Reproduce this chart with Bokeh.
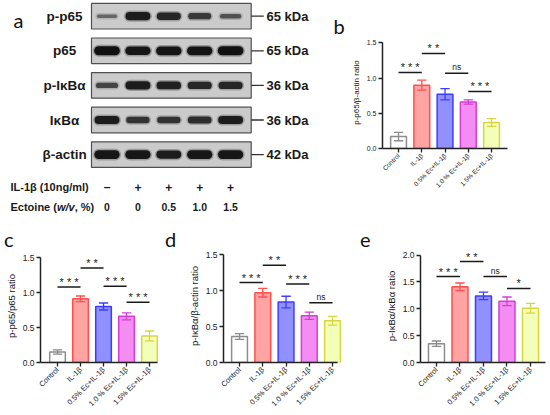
import numpy as np
from bokeh.plotting import figure
from bokeh.layouts import row, column
from bokeh.models import Range1d, FixedTicker, NumeralTickFormatter, ColumnDataSource, Div
from bokeh.core.properties import value, field
from bokeh.embed import file_html
from bokeh.resources import INLINE

# ---------------- data ----------------
groups = ["Control", "IL-1β", "0.5% Ec+IL-1β", "1.0 % Ec+IL-1β", "1.5% Ec+IL-1β"]
positions = [1, 2, 3, 4, 5]
fill_colors = ["#ffffff", "#ffa3a3", "#9090ff", "#f48cf4", "#f3ffb8"]
line_colors = ["#8c8c8c", "#ff4f4f", "#3c3cff", "#d23fd2", "#d6d645"]

sig_from = [1, 2, 3, 4]
sig_to = [2, 3, 4, 5]

b_mean = [0.17, 0.90, 0.77, 0.66, 0.37]
b_err = [0.06, 0.07, 0.08, 0.03, 0.055]
b_sig_text = ["* * *", "* *", "ns", "* * *"]
b_sig_y = [1.08, 1.35, 1.07, 0.81]

c_mean = [0.15, 0.91, 0.80, 0.66, 0.38]
c_err = [0.03, 0.04, 0.05, 0.05, 0.07]
c_sig_text = ["* * *", "* *", "* * *", "* * *"]
c_sig_y = [1.08, 1.35, 1.09, 0.86]

d_mean = [0.36, 0.97, 0.84, 0.65, 0.58]
d_err = [0.04, 0.06, 0.08, 0.05, 0.06]
d_sig_text = ["* * *", "* *", "* * *", "ns"]
d_sig_y = [1.11, 1.35, 1.09, 0.83]

e_mean = [0.35, 1.41, 1.24, 1.14, 1.01]
e_err = [0.05, 0.07, 0.07, 0.08, 0.09]
e_sig_text = ["* * *", "* *", "ns", "*"]
e_sig_y = [1.60, 1.88, 1.60, 1.38]

ticks_15 = [0.0, 0.5, 1.0, 1.5]
ticks_20 = [0.0, 0.5, 1.0, 1.5, 2.0]

blot_rows = ["p-p65", "p65", "p-IκBα", "IκBα", "β-actin"]
blot_kda = ["65 kDa", "65 kDa", "36 kDa", "36 kDa", "42 kDa"]
band_pp65 = [0.3, 0.9, 0.8, 0.65, 0.45]
band_p65 = [1.0, 0.95, 0.97, 0.97, 1.0]
band_pikba = [0.55, 0.9, 0.85, 0.8, 0.8]
band_ikba = [0.9, 0.7, 0.7, 0.75, 0.9]
band_actin = [0.95, 0.95, 0.9, 0.95, 0.95]
il1b_signs = ["–", "+", "+", "+", "+"]
ectoine_pct = ["0", "0", "0.5", "1.0", "1.5"]

panel_letters_bottom = ["c", "d", "e"]

FONT = "Liberation Sans"
LETTER_FONT = "Lato"
TXT = "#1a1a1a"

# ---------------- panel a (blot) + letter b ----------------
A_W, A_H = 345, 232
LANE_PX, ROW_PX = 30.9, 34.6
ax0, ay0 = -106.5 / LANE_PX, -15.7 / ROW_PX
pa = figure(width=A_W, height=A_H, output_backend="svg", toolbar_location=None,
            x_range=Range1d(ax0, ax0 + A_W / LANE_PX),
            y_range=Range1d(ay0 + A_H / ROW_PX, ay0), min_border=0)
pa.axis.visible = False
pa.grid.visible = False
pa.outline_line_color = None

row_idx = list(range(len(blot_rows)))
pa.quad(left=-0.502, right=4.667, top=[r - 0.37 for r in row_idx], bottom=[r + 0.37 for r in row_idx],
        fill_color="#cbcbcb", line_color="#505050", line_width=1.2)

all_bands = [band_pp65, band_p65, band_pikba, band_ikba, band_actin]
bx0, bx1, by, bth, bal = [], [], [], [], []
for r, inten in enumerate(all_bands):
    for lane, v in enumerate(inten):
        bx0.append(lane - 0.27)
        bx1.append(lane + 0.27)
        by.append(r)
        bth.append(1.0 + 8.0 * v)
        bal.append(0.25 + 0.75 * v)
bsrc = ColumnDataSource(dict(x0=bx0, x1=bx1, y=by, th=bth, th2=[t + 3 for t in bth],
                             al=bal, al2=[a * 0.3 for a in bal]))
pa.segment(x0="x0", x1="x1", y0="y", y1="y", source=bsrc, line_color="#222222",
           line_width="th2", line_alpha="al2", line_cap="round")
pa.segment(x0="x0", x1="x1", y0="y", y1="y", source=bsrc, line_color="#111111",
           line_width="th", line_alpha="al", line_cap="round")

pa.segment(x0=4.667, x1=5.074, y0=row_idx, y1=row_idx, line_color="#333333", line_width=1.3)
pa.text(x=5.16, y=row_idx, text=blot_kda, text_font=value(FONT), text_font_style="bold",
        text_font_size="13px", text_baseline="middle", text_align="left", text_color=TXT)
pa.text(x=-1.375, y=row_idx, text=blot_rows, text_font=value(FONT), text_font_style="bold",
        text_font_size="13.5px", text_baseline="middle", text_align="center", text_color=TXT)

pa.text(x=[-3.123], y=[4.94], text=["IL-1β (10ng/ml)"],
        text_font=value(FONT), text_font_style="bold", text_font_size="11px",
        text_baseline="middle", text_align="left", text_color=TXT)
pa.text(x=[-3.123, -1.045], y=[5.52, 5.52], text=["Ectoine (", ", %)"],
        text_font=value(FONT), text_font_style="bold", text_font_size="11px",
        text_baseline="middle", text_align="left", text_color=TXT)
pa.text(x=[-1.618], y=[5.52], text=["w/v"],
        text_font=value(FONT), text_font_style="bold italic", text_font_size="11px",
        text_baseline="middle", text_align="left", text_color=TXT)
lanes = list(range(5))
pa.text(x=lanes, y=[4.94] * 5, text=il1b_signs, text_font=value(FONT), text_font_style="bold",
        text_font_size="12px", text_baseline="middle", text_align="center", text_color=TXT)
pa.text(x=lanes, y=[5.52] * 5, text=ectoine_pct, text_font=value(FONT), text_font_style="bold",
        text_font_size="10.5px", text_baseline="middle", text_align="center", text_color=TXT)
pa.text(x=[-3.026, 7.33], y=[0.124, 0.269], text=["a", "b"], text_font=value(LETTER_FONT),
        text_font_size="20px", text_baseline="alphabetic", text_align="left", text_color="#111111")

# ---------------- strip with letters c, d, e (HTML text) ----------------
STRIP_H = 17
strip_widths = [160, 195, 195]
strip_indent = [4, 5, 5]
divs = []
for letter, w, ind in zip(panel_letters_bottom, strip_widths, strip_indent):
    divs.append(Div(text=letter, width=w, height=STRIP_H, margin=0,
                    styles={"font-family": LETTER_FONT, "font-size": "20px", "line-height": "15px",
                            "color": "#111111", "text-indent": f"{ind}px", "overflow": "visible",
                            "white-space": "nowrap"}))


# ---------------- bar panels ----------------
def bar_panel(fig_w, fig_h, left, right, top, bottom, x_start, px_cat,
              px_unit, y_ticks, axis_x_end, ylabel, means, errs, sig_text, sig_y,
              tick_fs, xtick_fs, label_fs):
    frame_w = fig_w - left - right
    frame_h = fig_h - top - bottom
    x_end = x_start + frame_w / px_cat
    y_top = frame_h / px_unit
    p = figure(width=fig_w, height=fig_h, output_backend="svg", toolbar_location=None,
               x_range=Range1d(x_start, x_end), y_range=Range1d(0, y_top),
               min_border_left=left, min_border_right=right,
               min_border_top=top, min_border_bottom=bottom)
    p.grid.visible = False
    p.outline_line_color = None

    p.vbar(x=positions, top=means, bottom=0, width=0.68, fill_color=fill_colors,
           line_color=line_colors, line_width=1.5)
    lo = [m - e for m, e in zip(means, errs)]
    hi = [m + e for m, e in zip(means, errs)]
    p.segment(x0=positions, x1=positions, y0=lo, y1=hi, line_color=line_colors, line_width=1.3)
    for ends in (lo, hi):
        p.segment(x0=[x - 0.2 for x in positions], x1=[x + 0.2 for x in positions],
                  y0=ends, y1=ends, line_color=line_colors, line_width=1.3)

    p.segment(x0=sig_from, x1=sig_to, y0=sig_y, y1=sig_y, line_color=TXT, line_width=1.5)
    src = ColumnDataSource(dict(x=[(a + b) / 2 for a, b in zip(sig_from, sig_to)], y=sig_y,
                                t=sig_text,
                                fs=["8.5px" if s == "ns" else "11px" for s in sig_text],
                                yo=[-1 if s == "ns" else 1 for s in sig_text]))
    p.text(x="x", y="y", text="t", source=src, text_font=value(FONT), text_font_size=field("fs"),
           y_offset="yo", text_align="center", text_baseline="bottom", text_color="#222222")

    p.xaxis.ticker = FixedTicker(ticks=positions)
    p.xaxis.major_label_overrides = dict(zip(positions, groups))
    p.xaxis.major_label_orientation = np.pi / 4
    p.xaxis.bounds = (x_start, axis_x_end)
    p.xaxis.major_label_text_font_size = xtick_fs
    p.yaxis.ticker = FixedTicker(ticks=y_ticks)
    p.yaxis.formatter = NumeralTickFormatter(format="0.0")
    p.yaxis.bounds = (0, y_ticks[-1])
    p.yaxis.major_label_text_font_size = tick_fs
    p.yaxis.axis_label = ylabel
    p.yaxis.axis_label_text_font = FONT
    p.yaxis.axis_label_text_font_style = "normal"
    p.yaxis.axis_label_text_font_size = label_fs
    p.yaxis.axis_label_text_color = "#111111"
    p.yaxis.axis_label_standoff = 3
    for ax in (p.xaxis[0], p.yaxis[0]):
        ax.axis_line_width = 1.5
        ax.axis_line_color = "#222222"
        ax.major_tick_line_width = 1.3
        ax.major_tick_line_color = "#222222"
        ax.major_tick_in = 0
        ax.major_tick_out = 4
        ax.minor_tick_line_color = None
        ax.major_label_text_font = FONT
        ax.major_label_text_color = "#222222"
        ax.major_label_standoff = 2
    return p


BOT_H = 415 - A_H - STRIP_H
pb = bar_panel(205, 232, 37, 38, 36, 84, 0.31, 23.25, 70.4, ticks_15, 5.69,
               "p-p65/β-actin ratio", b_mean, b_err, b_sig_text, b_sig_y, "7px", "6.5px", "8px")
pc = bar_panel(160, BOT_H, 40, 2, 0, 53, 0.26, 23.0, 70.0, ticks_15, 5.35,
               "p-p65/p65 ratio", c_mean, c_err, c_sig_text, c_sig_y, "8.5px", "7.5px", "9.5px")
pd_ = bar_panel(195, BOT_H, 63, 13, 0, 53, 0.31, 23.25, 72.0, ticks_15, 5.21,
                "p-IκBα/β-actin ratio", d_mean, d_err, d_sig_text, d_sig_y, "8.5px", "7.5px", "9.5px")
pe = bar_panel(195, BOT_H, 65, 4, 0, 53, 0.32, 23.5, 53.7, ticks_20, 5.64,
               "p-IκBα/IκBα ratio", e_mean, e_err, e_sig_text, e_sig_y, "8.5px", "7.5px", "9.5px")

layout = column(row(column(pa), column(pb)), row(*divs),
                row(column(pc), column(pd_), column(pe)))
open("out.html", "w").write(file_html(layout, INLINE))
